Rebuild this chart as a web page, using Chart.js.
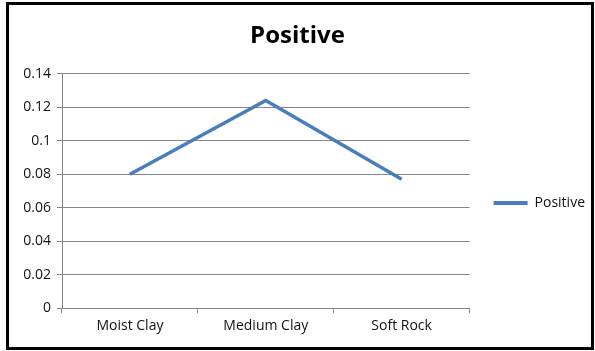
<!DOCTYPE html>
<html>
<head>
<meta charset="utf-8">
<script src="https://cdn.jsdelivr.net/npm/chart.js@4/dist/chart.umd.min.js"></script>
<style>
  html, body { margin: 0; padding: 0; background: #fff; }
  #wrap { position: relative; width: 595px; height: 351px; }
  #frame {
    position: absolute; left: 6px; top: 2px; width: 588px; height: 348px;
    border: 3px solid #000; box-sizing: border-box; pointer-events: none;
  }
  canvas { display: block; }
</style>
</head>
<body>
<div id="wrap">
  <canvas id="chart" width="595" height="351"></canvas>
  <div id="frame"></div>
</div>
<script>
// Soil / rock categories and the "Positive" series
const categories = ['Moist Clay', 'Medium Clay', 'Soft Rock'];
const positiveValues = [0.080, 0.124, 0.077];
const yTickValues = [0, 0.02, 0.04, 0.06, 0.08, 0.1, 0.12, 0.14];

const FONT = "'Open Sans', 'Liberation Sans', sans-serif";
const BLUE = '#4A7EBB';
const GRID = '#868686';

new Chart(document.getElementById('chart'), {
  type: 'line',
  data: {
    labels: categories,
    datasets: [{
      label: 'Positive',
      data: positiveValues,
      borderColor: BLUE,
      backgroundColor: BLUE,
      borderWidth: 3.5,
      pointRadius: 0,
      pointHoverRadius: 0,
      tension: 0,
      fill: false
    }]
  },
  options: {
    responsive: false,
    animation: false,
    layout: { padding: { left: 0, right: 0, top: 0, bottom: 0 } },
    plugins: {
      title: {
        display: true,
        text: 'Positive',
        color: '#000',
        font: { family: FONT, size: 24, weight: 'bold' },
        padding: { top: 22, bottom: 23 }
      },
      legend: {
        position: 'right',
        fullSize: false,
        // empty legend title nudges the single entry down a little
        title: {
          display: true,
          text: ' ',
          font: { family: FONT, size: 10 },
          padding: { top: 6, bottom: 6 }
        },
        labels: {
          color: '#111',
          font: { family: FONT, size: 14 },
          boxWidth: 34,
          boxHeight: 4,
          padding: 24,
          generateLabels(chart) {
            const items = Chart.defaults.plugins.legend.labels.generateLabels(chart);
            items.forEach(it => { it.lineWidth = 0; it.fillStyle = BLUE; });
            return items;
          }
        }
      },
      tooltip: { enabled: false }
    },
    scales: {
      x: {
        offset: true,
        afterFit(scale) { scale.height = 43; },
        grid: {
          offset: true,
          drawOnChartArea: false,
          drawTicks: true,
          tickLength: 5,
          color: GRID
        },
        border: { color: GRID, width: 1 },
        ticks: {
          color: '#111',
          font: { family: FONT, size: 14 },
          padding: 5,
          maxRotation: 0
        }
      },
      y: {
        min: 0,
        max: 0.14,
        afterFit(scale) { scale.width = 62; },
        afterBuildTicks(scale) {
          scale.ticks = yTickValues.map(v => ({ value: v }));
        },
        grid: {
          color: GRID,
          lineWidth: 1,
          drawTicks: true,
          tickLength: 5
        },
        border: { color: GRID, width: 1 },
        ticks: {
          color: '#111',
          font: { family: FONT, size: 14 },
          padding: 6,
          callback(v) { return String(Number(Number(v).toFixed(2))); }
        }
      }
    }
  }
});
</script>
</body>
</html>
